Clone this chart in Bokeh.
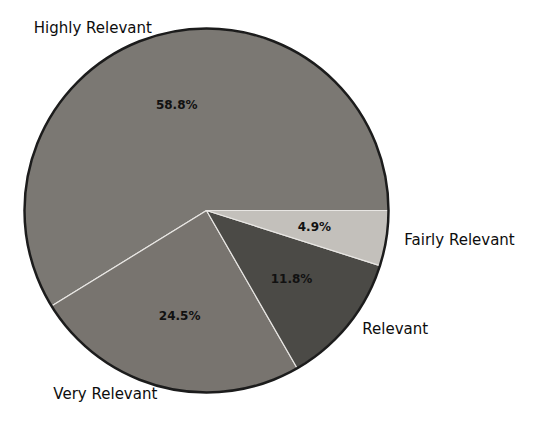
import math
from bokeh.plotting import figure
from bokeh.models import ColumnDataSource
from bokeh.core.properties import value
from bokeh.embed import file_html
from bokeh.resources import INLINE

categories = ["Highly Relevant", "Very Relevant", "Relevant", "Fairly Relevant"]
percents = [58.8, 24.5, 11.8, 4.9]
colors = ["#7b7873", "#78746f", "#4b4a46", "#c3c0bb"]

W, H = 523, 405
R = 182.0
cx, cy = 206.0, 210.0  # pixel position of pie centre within the figure

p = figure(width=W, height=H, output_backend="svg", toolbar_location=None,
           x_range=(-cx / R, (W - cx) / R), y_range=(-(H - cy) / R, cy / R),
           min_border=0, background_fill_color="#ffffff", border_fill_color="#ffffff")
p.axis.visible = False
p.grid.visible = False
p.outline_line_color = None

total = sum(percents)
starts, ends, mids = [], [], []
acc = 0.0
for v in percents:
    a0 = 2 * math.pi * acc / total
    acc += v
    a1 = 2 * math.pi * acc / total
    starts.append(a0)
    ends.append(a1)
    mids.append((a0 + a1) / 2)

src = ColumnDataSource(dict(cat=categories, pct=percents, start=starts, end=ends, color=colors))
p.wedge(x=0, y=0, radius=1.0, start_angle="start", end_angle="end", direction="anticlock",
        fill_color="color", line_color="#e8e6e3", line_width=1.2, source=src)
p.circle(x=[0], y=[0], radius=1.0, fill_color=None, line_color="#1c1c1c", line_width=2.5)

lx = [1.1 * math.cos(m) for m in mids]
ly = [1.04 * math.sin(m) for m in mids]
align = ["left" if x >= 0 else "right" for x in lx]
lab = ColumnDataSource(dict(x=lx, y=ly, t=categories, a=align))
p.text(x="x", y="y", text="t", text_align="a", text_baseline="middle", source=lab,
       text_font=value("DejaVu Sans"), text_font_size="15px", text_font_style="normal",
       text_color="#0d0d0d")

px = [0.6 * math.cos(m) for m in mids]
py = [0.6 * math.sin(m) for m in mids]
pt = ["%.1f%%" % v for v in percents]
pl = ColumnDataSource(dict(x=px, y=py, t=pt))
p.text(x="x", y="y", text="t", text_align="center", text_baseline="middle", source=pl,
       text_font=value("DejaVu Sans"), text_font_size="12px", text_font_style="bold",
       text_color="#111111")

open("out.html", "w").write(file_html(p, INLINE))
